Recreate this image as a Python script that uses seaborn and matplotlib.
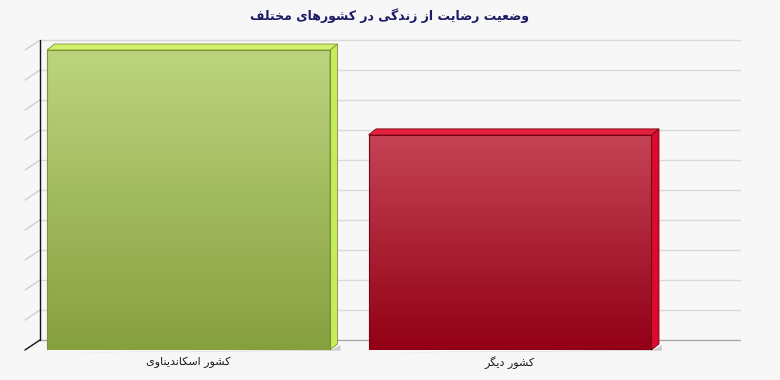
import numpy as np
import matplotlib
matplotlib.use('Agg')
import matplotlib.pyplot as plt
import seaborn as sns
import pandas as pd
from matplotlib.colors import LinearSegmentedColormap
from matplotlib.patches import Polygon
from matplotlib.lines import Line2D
from matplotlib.ticker import MultipleLocator

# ---------------- data ----------------
title = 'وضعیت رضایت از زندگی در کشورهای مختلف'
categories = ['کشور اسکاندیناوی', 'کشور دیگر']
values = [10.0, 7.17]

front_top = ['#bdd47f', '#c54455']
front_bottom = ['#87a03e', '#920015']
top_colors = ['#d3f06c', '#e6203f']
side_colors = ['#c6ec5a', '#dc0a2d']
edge_colors = ['#7b9437', '#7a0012']

# ---------------- Arabic/Persian shaping (matplotlib has no RTL shaping) ----------------
FORMS = {
    '\u0627': ('\uFE8D', '\uFE8E', None, None),
    '\u0628': ('\uFE8F', '\uFE90', '\uFE91', '\uFE92'),
    '\u067E': ('\uFB56', '\uFB57', '\uFB58', '\uFB59'),
    '\u062A': ('\uFE95', '\uFE96', '\uFE97', '\uFE98'),
    '\u062E': ('\uFEA5', '\uFEA6', '\uFEA7', '\uFEA8'),
    '\u062F': ('\uFEA9', '\uFEAA', None, None),
    '\u0631': ('\uFEAD', '\uFEAE', None, None),
    '\u0632': ('\uFEAF', '\uFEB0', None, None),
    '\u0633': ('\uFEB1', '\uFEB2', '\uFEB3', '\uFEB4'),
    '\u0634': ('\uFEB5', '\uFEB6', '\uFEB7', '\uFEB8'),
    '\u0636': ('\uFEBD', '\uFEBE', '\uFEBF', '\uFEC0'),
    '\u0639': ('\uFEC9', '\uFECA', '\uFECB', '\uFECC'),
    '\u0641': ('\uFED1', '\uFED2', '\uFED3', '\uFED4'),
    '\u0644': ('\uFEDD', '\uFEDE', '\uFEDF', '\uFEE0'),
    '\u0645': ('\uFEE1', '\uFEE2', '\uFEE3', '\uFEE4'),
    '\u0646': ('\uFEE5', '\uFEE6', '\uFEE7', '\uFEE8'),
    '\u0647': ('\uFEE9', '\uFEEA', '\uFEEB', '\uFEEC'),
    '\u0648': ('\uFEED', '\uFEEE', None, None),
    '\u06CC': ('\uFBFC', '\uFBFD', '\uFBFE', '\uFBFF'),
    '\u064A': ('\uFEF1', '\uFEF2', '\uFEF3', '\uFEF4'),
    '\u06A9': ('\uFB8E', '\uFB8F', '\uFB90', '\uFB91'),
    '\u06AF': ('\uFB92', '\uFB93', '\uFB94', '\uFB95'),
}


def shape(text):
    chars = list(text)
    out = []
    dual = lambda c: c in FORMS and FORMS[c][2] is not None
    for i, c in enumerate(chars):
        if c not in FORMS:
            out.append(c)
            continue
        prev = chars[i - 1] if i > 0 else None
        nxt = chars[i + 1] if i + 1 < len(chars) else None
        cp = prev is not None and dual(prev)
        cn = nxt is not None and nxt in FORMS and dual(c)
        iso, fin, ini, med = FORMS[c]
        if cp and cn:
            out.append(med)
        elif cp:
            out.append(fin)
        elif cn:
            out.append(ini)
        else:
            out.append(iso)
    return ''.join(reversed(out))


# ---------------- figure ----------------
sns.set_style('white')
plt.rcParams['font.family'] = ['DejaVu Sans']

W, H = 780, 380
BG = '#f7f7f7'
fig = plt.figure(figsize=(W / 100, H / 100), dpi=100, facecolor=BG)
ax = fig.add_axes([25 / W, 30 / H, 700 / W, 300 / H])
ax.set_facecolor('none')

df = pd.DataFrame({'cat': [shape(c) for c in categories], 'val': values})
sns.barplot(data=df, x='cat', y='val', hue='cat', palette=front_bottom,
            width=0.88, saturation=1, legend=False, ax=ax)

bars = list(ax.patches)
for i, p in enumerate(bars):
    x0, w, h = p.get_x(), p.get_width(), p.get_height()
    cmap = LinearSegmentedColormap.from_list('g%d' % i, [front_bottom[i], front_top[i]])
    grad = np.linspace(1, 0, 256).reshape(-1, 1)
    im = ax.imshow(grad, extent=[x0, x0 + w, 0, h], aspect='auto', cmap=cmap,
                   vmin=0, vmax=1, zorder=3, interpolation='bilinear')
    im.set_clip_path(p)
    p.set_facecolor('none')
    p.set_edgecolor(edge_colors[i])
    p.set_linewidth(0.8)
    p.set_zorder(4)

ax.set_xlim(-0.5086, 1.6687)
ax.set_ylim(0, 10)
ax.yaxis.set_major_locator(MultipleLocator(1))
for s in ax.spines.values():
    s.set_visible(False)
ax.set_yticklabels([])
ax.tick_params(left=False, bottom=False, pad=1, labelsize=8, labelcolor='#1a1a1a')
ax.set_xlabel('')
ax.set_ylabel('')
ax.grid(False)

inv = fig.transFigure.inverted()


def to_fig(pts):
    return inv.transform(np.asarray(pts, dtype=float))


def add_line(pts, **kw):
    xy = to_fig(pts)
    ln = Line2D(xy[:, 0], xy[:, 1], transform=fig.transFigure, clip_on=False, **kw)
    ax.add_line(ln)


DX, DY = 15, 10        # wall depth in pixels
BDX, BDY = 7.5, 6      # bar depth in pixels

xl = ax.get_xlim()
ticks = [t for t in ax.get_yticks() if 0 <= t <= 10]
for t in ticks:
    fx, fy = ax.transData.transform((xl[0], t))
    rx, _ = ax.transData.transform((xl[1], t))
    is_floor = t == 0
    add_line([(fx + DX, fy + DY), (rx + DX, fy + DY)],
             color='#a9a9a9' if is_floor else '#d9d9d9', lw=1.0, zorder=0.5)
    add_line([(fx, fy), (fx + DX, fy + DY)],
             color='#111111' if is_floor else '#cfcfcf', lw=1.0, zorder=0.6)

bx, by0 = ax.transData.transform((xl[0], 0))
_, by1 = ax.transData.transform((xl[0], max(ticks)))
add_line([(bx + DX, by0 + DY), (bx + DX, by1 + DY)], color='#111111', lw=1.0, zorder=0.7)

for i, p in enumerate(bars):
    x0, w, h = p.get_x(), p.get_width(), p.get_height()
    (px0, py0) = ax.transData.transform((x0, 0))
    (px1, py1) = ax.transData.transform((x0 + w, h))
    shadow = [(px0 + 2, py0 - 2.5), (px1 + BDX + 3, py0 - 2.5 + BDY * 0.3),
              (px1 + BDX + 3, py0 + BDY - 1), (px1 + 2, py0)]
    ax.add_patch(Polygon(to_fig(shadow), closed=True, transform=fig.transFigure,
                         facecolor='#cdcdcd', edgecolor='none', zorder=1, clip_on=False))
    top = [(px0, py1), (px1, py1), (px1 + BDX, py1 + BDY), (px0 + BDX, py1 + BDY)]
    side = [(px1, py0), (px1, py1), (px1 + BDX, py1 + BDY), (px1 + BDX, py0 + BDY)]
    ax.add_patch(Polygon(to_fig(side), closed=True, transform=fig.transFigure,
                         facecolor=side_colors[i], edgecolor=edge_colors[i], lw=0.6,
                         zorder=3.5, clip_on=False))
    ax.add_patch(Polygon(to_fig(top), closed=True, transform=fig.transFigure,
                         facecolor=top_colors[i], edgecolor=edge_colors[i], lw=0.6,
                         zorder=3.6, clip_on=False))

fig.text(0.5, 1 - 16 / H, shape(title), ha='center', va='center', fontsize=9,
         fontweight='bold', color='#1d1a66')

fig.savefig('out.png', dpi=100, facecolor=BG)
